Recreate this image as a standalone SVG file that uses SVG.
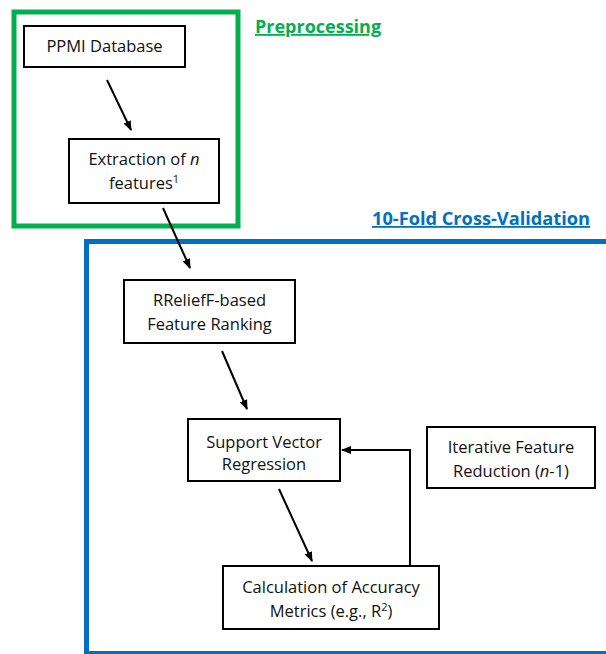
<svg xmlns="http://www.w3.org/2000/svg" width="606" height="654" viewBox="0 0 606 654">
<defs>
<marker id="ah" markerWidth="10" markerHeight="8" refX="9" refY="4" orient="auto" markerUnits="userSpaceOnUse">
<path d="M0,0 L10,4 L0,8 Z" fill="#000"/>
</marker>
<style>
.box{fill:#fff;stroke:#000;stroke-width:2}
.t{font-family:"Open Sans","Liberation Sans",sans-serif;font-size:16.5px;fill:#111;text-anchor:middle}
.h{font-family:"Open Sans","Liberation Sans",sans-serif;font-size:18px;font-weight:bold;text-decoration:underline}
.c{stroke:#000;stroke-width:2;fill:none;marker-end:url(#ah)}
</style>
</defs>
<rect width="606" height="654" fill="#fff"/>
<g id="preprocessing">
<rect x="14" y="12" width="224" height="214" fill="none" stroke="#00B050" stroke-width="5"/>
<text class="h" x="255" y="33" fill="#00B050">Preprocessing</text>
</g>
<g id="cross-validation">
<rect x="86.5" y="241.5" width="530" height="412" fill="none" stroke="#0070C0" stroke-width="5"/>
<text class="h" x="372" y="225" fill="#0070C0" textLength="218" lengthAdjust="spacingAndGlyphs">10-Fold Cross-Validation</text>
</g>
<g id="connectors">
<line class="c" x1="107" y1="80" x2="131" y2="130"/>
<line class="c" x1="163" y1="208" x2="190" y2="268"/>
<line class="c" x1="222" y1="351" x2="247" y2="409"/>
<line class="c" x1="279" y1="489" x2="312" y2="561"/>
<polyline class="c" points="410,566 410,450 342,450"/>
</g>
<g id="ppmi">
<rect class="box" x="24" y="26" width="161" height="41"/>
<text class="t" x="104.5" y="51.5">PPMI Database</text>
</g>
<g id="extraction">
<rect class="box" x="69" y="139" width="150" height="64"/>
<text class="t" x="144" y="164.5">Extraction of <tspan font-style="italic">n</tspan></text>
<text class="t" x="144" y="188.5">features<tspan font-size="11" dy="-6">1</tspan></text>
</g>
<g id="rrelieff">
<rect class="box" x="124" y="280" width="171" height="63"/>
<text class="t" x="209.5" y="305.5">RReliefF-based</text>
<text class="t" x="209.5" y="329.5">Feature Ranking</text>
</g>
<g id="svr">
<rect class="box" x="188" y="419" width="152" height="62"/>
<text class="t" x="264" y="447.5">Support Vector</text>
<text class="t" x="264" y="469.5">Regression</text>
</g>
<g id="iterative">
<rect class="box" x="427" y="427" width="168" height="61"/>
<text class="t" x="511" y="453">Iterative Feature</text>
<text class="t" x="511" y="476.5">Reduction (<tspan font-style="italic">n</tspan>-1)</text>
</g>
<g id="calc">
<rect class="box" x="223" y="566" width="216" height="63"/>
<text class="t" x="331" y="593">Calculation of Accuracy</text>
<text class="t" x="331" y="616.5">Metrics (e.g., R<tspan font-size="11" dy="-6">2</tspan><tspan dy="6">)</tspan></text>
</g>
</svg>
